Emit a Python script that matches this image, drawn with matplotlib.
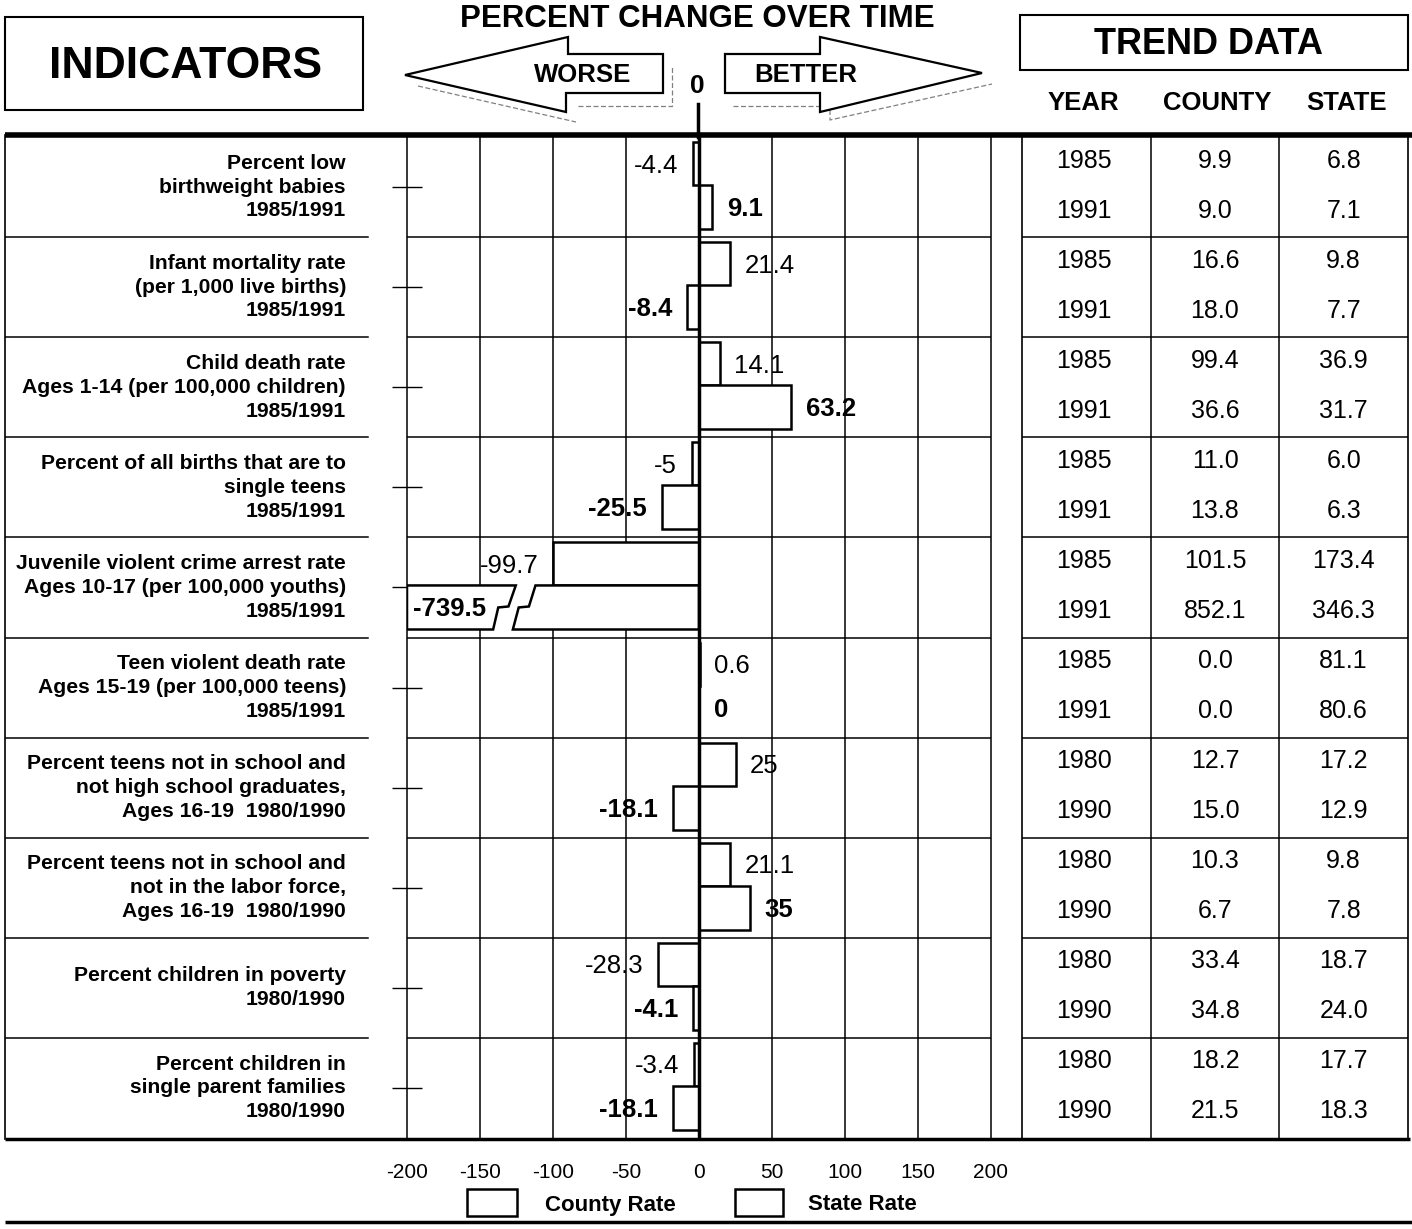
import numpy as np
import matplotlib
matplotlib.use("Agg")
import matplotlib.pyplot as plt
from matplotlib.patches import Polygon, Rectangle

plt.rcParams['font.family'] = ['Liberation Sans', 'DejaVu Sans']

indicators = [
    "Percent low\nbirthweight babies\n1985/1991",
    "Infant mortality rate\n(per 1,000 live births)\n1985/1991",
    "Child death rate\nAges 1-14 (per 100,000 children)\n1985/1991",
    "Percent of all births that are to\nsingle teens\n1985/1991",
    "Juvenile violent crime arrest rate\nAges 10-17 (per 100,000 youths)\n1985/1991",
    "Teen violent death rate\nAges 15-19 (per 100,000 teens)\n1985/1991",
    "Percent teens not in school and\nnot high school graduates,\nAges 16-19  1980/1990",
    "Percent teens not in school and\nnot in the labor force,\nAges 16-19  1980/1990",
    "Percent children in poverty\n1980/1990",
    "Percent children in\nsingle parent families\n1980/1990",
]

# percent change, positive = better
state_change = [-4.4, 21.4, 14.1, -5, -99.7, 0.6, 25, 21.1, -28.3, -3.4]
county_change = [9.1, -8.4, 63.2, -25.5, -739.5, 0, -18.1, 35, -4.1, -18.1]

year_start = ["1985"] * 6 + ["1980"] * 4
year_end = ["1991"] * 6 + ["1990"] * 4
county_start = ["9.9", "16.6", "99.4", "11.0", "101.5", "0.0", "12.7", "10.3", "33.4", "18.2"]
county_end = ["9.0", "18.0", "36.6", "13.8", "852.1", "0.0", "15.0", "6.7", "34.8", "21.5"]
state_start = ["6.8", "9.8", "36.9", "6.0", "173.4", "81.1", "17.2", "9.8", "18.7", "17.7"]
state_end = ["7.1", "7.7", "31.7", "6.3", "346.3", "80.6", "12.9", "7.8", "24.0", "18.3"]

xticks = [-200, -150, -100, -50, 0, 50, 100, 150, 200]
XMIN, XMAX = -200, 200

W, H = 1412, 1229
fig = plt.figure(figsize=(W / 100, H / 100), dpi=100)


def frame(x0, y0, x1, y1):
    return [x0 / W, 1 - y1 / H, (x1 - x0) / W, (y1 - y0) / H]


# page layer in pixel units for rules, boxes and headings
ov = fig.add_axes([0, 0, 1, 1])
ov.set_xlim(0, W)
ov.set_ylim(H, 0)
ov.axis('off')

ov.plot([5, W], [135, 135], color='black', lw=4, solid_capstyle='butt')
ov.plot([5, 1410], [1139, 1139], color='black', lw=2.5, solid_capstyle='butt')
ov.plot([5, W], [1222, 1222], color='black', lw=2.5, solid_capstyle='butt')
ov.plot([5, 5], [135, 1139], color='black', lw=1.2)
ov.plot([698, 698], [104, 137], color='black', lw=2.5)

ov.add_patch(Rectangle((5, 17), 358, 93, fill=False, lw=1.5, ec='black'))
ov.text(186, 67, "INDICATORS", ha='center', va='center', fontsize=32, weight='bold')
ov.add_patch(Rectangle((1020, 15), 388, 55, fill=False, lw=1.5, ec='black'))
ov.text(1209, 44, "TREND DATA", ha='center', va='center', fontsize=26, weight='bold')
ov.text(697, 19, "PERCENT CHANGE OVER TIME", ha='center', va='center', fontsize=22.5, weight='bold')
for label, xc in zip(["YEAR", "COUNTY", "STATE"], [1083, 1217, 1347]):
    ov.text(xc, 103, label, ha='center', va='center', fontsize=18.5, weight='bold')

# direction arrows
left_arrow = [(405, 75), (568, 37), (568, 54), (663, 54), (663, 93), (566, 93), (566, 112)]
right_arrow = [(725, 54), (820, 54), (820, 37), (982, 73), (820, 112), (820, 93), (725, 93)]
for pts in (left_arrow, right_arrow):
    ov.add_patch(Polygon(pts, closed=True, fc='white', ec='black', lw=1.6, zorder=3))
shadow = dict(color='0.5', lw=0.9, ls=(0, (4, 2)), zorder=2)
ov.plot([418, 576, 576], [86, 122, 122], **shadow)
ov.plot([578, 672, 672], [106, 106, 66], **shadow)
ov.plot([733, 820], [106, 106], **shadow)
ov.plot([830, 830, 992], [110, 120, 84], **shadow)
ov.text(583, 75, "WORSE", ha='center', va='center', fontsize=18.5, weight='bold', zorder=4)
ov.text(806, 75, "BETTER", ha='center', va='center', fontsize=18.5, weight='bold', zorder=4)
ov.text(697, 86, "0", ha='center', va='center', fontsize=19, weight='bold')

# legend
ov.add_patch(Rectangle((467, 1189), 50, 27, fill=False, lw=1.8, ec='black'))
ov.text(545, 1205, "County Rate", ha='left', va='center', fontsize=16, weight='bold')
ov.add_patch(Rectangle((735, 1189), 48, 27, fill=False, lw=1.8, ec='black'))
ov.text(808, 1205, "State Rate", ha='left', va='center', fontsize=16, weight='bold')

n = len(indicators)
rows = np.arange(n)

# indicator column
ia = fig.add_axes(frame(5, 137, 370, 1138))
ia.set_xlim(5, 370)
ia.set_ylim(n, 0)
ia.axis('off')
for r in range(1, n):
    ia.plot([5, 368], [r, r], color='black', lw=1.1)
for r, label in enumerate(indicators):
    ia.text(346, r + 0.5, label, ha='right', va='center', fontsize=15.2,
            weight='bold', linespacing=1.32)

# percent change chart
ax = fig.add_axes(frame(407, 137, 991, 1138))
ax.set_facecolor('none')
ax.set_xlim(XMIN, XMAX)
ax.set_ylim(n, 0)
for x in xticks[1:-1]:
    ax.axvline(x, color='black', lw=1.1, zorder=1)
for r in range(1, n):
    ax.axhline(r, color='black', lw=1.1, zorder=1)

top_c, top_h = 0.265, 0.43
bot_c, bot_h = 0.70, 0.44
bar_style = dict(facecolor='white', edgecolor='black', linewidth=1.8, zorder=3)
ax.barh(rows + top_c, state_change, height=top_h, **bar_style)

county = np.array(county_change, dtype=float)
inside = county >= XMIN
ax.barh(rows[inside] + bot_c, county[inside], height=bot_h, **bar_style)

# bars running past the axis get a break mark
for r in rows[~inside]:
    y0, y1 = r + bot_c - bot_h / 2, r + bot_c + bot_h / 2
    ym = r + 0.69
    left_piece = [(XMIN, y0), (-125.5, y0), (-130.5, ym), (-137.5, ym + 0.01),
                  (-141, y1), (XMIN, y1)]
    right_piece = [(-112, y0), (0, y0), (0, y1), (-127.5, y1),
                   (-123.5, ym + 0.01), (-116.5, ym)]
    for pts in (left_piece, right_piece):
        ax.add_patch(Polygon(pts, closed=True, **bar_style))
    ax.text(XMIN + 4, r + bot_c + 0.02, f"{county[r]:g}", ha='left', va='center',
            fontsize=18.5, weight='bold', zorder=5)

ax.axvline(0, color='black', lw=2.5, zorder=4)


def value_label(v, y, weight):
    off = 10.5 if v >= 0 else -10.5
    ax.annotate(f"{v:g}", (v, y), xytext=(off, 0), textcoords='offset points',
                ha='left' if v >= 0 else 'right', va='center',
                fontsize=18.5, weight=weight, zorder=5)


for r in rows:
    value_label(state_change[r], r + top_c + 0.02, 'normal')
    if inside[r]:
        value_label(county[r], r + bot_c + 0.02, 'bold')

ax.spines['top'].set_visible(False)
ax.spines['bottom'].set_visible(False)
for s in ('left', 'right'):
    ax.spines[s].set_linewidth(1.1)
ax.set_xticks(xticks)
ax.set_xticklabels([f"{t}" for t in xticks])
ax.tick_params(axis='x', length=0, pad=18, labelsize=15)
ax.set_yticks(rows + 0.5)
ax.set_yticklabels([])
ax.tick_params(axis='y', direction='inout', length=22, width=1, right=False)

# trend data table
ta = fig.add_axes(frame(1022, 137, 1408, 1138))
ta.set_facecolor('none')
ta.set_xlim(0, 3)
ta.set_ylim(n, 0)
ta.set_xticks([])
ta.set_yticks([])
for s in ('top', 'bottom'):
    ta.spines[s].set_visible(False)
for s in ('left', 'right'):
    ta.spines[s].set_linewidth(1.2)
for c in (1, 2):
    ta.axvline(c, color='black', lw=1.1)
for r in range(1, n):
    ta.axhline(r, color='black', lw=1.1)
columns = [(year_start, year_end), (county_start, county_end), (state_start, state_end)]
for c, (first, second) in enumerate(columns):
    xc = c + 0.5 - 0.02 * (c == 0)
    for r in rows:
        ta.text(xc, r + 0.235, first[r], ha='center', va='center', fontsize=18)
        ta.text(xc, r + 0.735, second[r], ha='center', va='center', fontsize=18)

fig.savefig("out.png", dpi=100)
